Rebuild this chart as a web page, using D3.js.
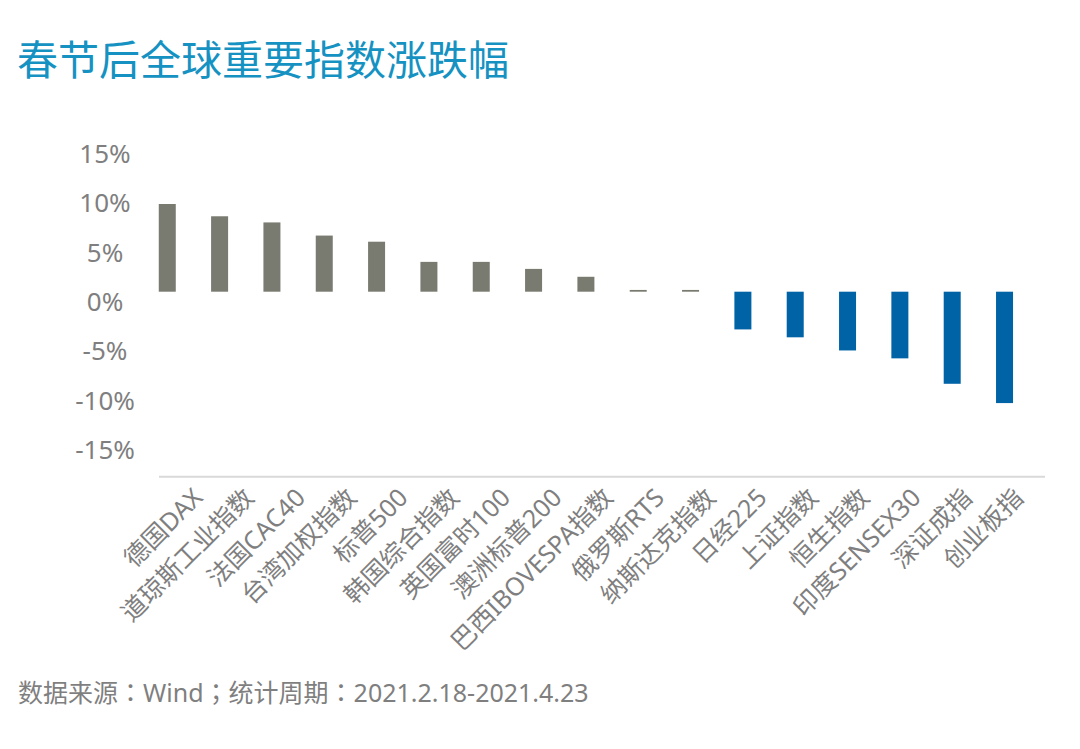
<!DOCTYPE html>
<html>
<head>
<meta charset="utf-8">
<script src="https://cdn.jsdelivr.net/npm/d3@7"></script>
<style>
body { margin: 0; background: #fff; }
svg { display: block; font-family: "Noto Sans", "Noto Sans CJK SC", sans-serif; }
</style>
</head>
<body>
<div id="chart"></div>
<script>
var names = ["德国DAX", "道琼斯工业指数", "法国CAC40", "台湾加权指数", "标普500", "韩国综合指数",
	"英国富时100", "澳洲标普200", "巴西IBOVESPA指数", "俄罗斯RTS", "纳斯达克指数", "日经225",
	"上证指数", "恒生指数", "印度SENSEX30", "深证成指", "创业板指"];
var values = [10.0, 8.6, 7.9, 6.4, 5.7, 3.4, 3.4, 2.6, 1.7, 0.2, 0.2, -4.3, -5.2, -6.7, -7.6, -10.5, -12.7];
var yTicks = [15, 10, 5, 0, -5, -10, -15];

var title = "春节后全球重要指数涨跌幅";
var sourceParts = ["数据来源", "：", "Wind", "；", "统计周期", "：", "2021.2.18-2021.4.23"];

var svgWidth = 1080, svgHeight = 749;

var svg = d3.select("#chart")
.append("svg")
.attr("width", svgWidth)
.attr("height", svgHeight);

svg.append("rect")
.attr("width", svgWidth)
.attr("height", svgHeight)
.attr("fill", "#fff");

svg.append("text")
.attr("x", 17)
.attr("y", 75)
.attr("fill", "#1592c2")
.style("font-size", "41px")
.text(title);

var xScale = d3.scaleBand()
.domain(names)
.range([132.6, 1039.2])
.paddingInner(0.675)
.paddingOuter(0.5);

// bars and tick labels don't share a scale in the original picture
var yScale = d3.scaleLinear()
.domain([0, 10])
.range([291.7, 204]);

var tickScale = d3.scaleLinear()
.domain([-15, 15])
.range([450.5, 154]);

var yAxis = d3.axisLeft(tickScale)
.tickValues(yTicks)
.tickSize(0)
.tickPadding(0)
.tickFormat(d => d + "%");

var yGroup = svg.append("g")
.attr("transform", "translate(105,0)")
.call(yAxis);
yGroup.select(".domain").remove();
yGroup.selectAll("text")
.attr("text-anchor", "middle")
.attr("fill", "#7f7f7f")
.style("font-size", "26px")
.style("font-family", "'Noto Sans', 'Noto Sans CJK SC', sans-serif");

svg.append("line")
.attr("x1", 159)
.attr("x2", 1045)
.attr("y1", 476.7)
.attr("y2", 476.7)
.attr("stroke", "#d9d9d9")
.attr("stroke-width", 2);

svg.append("g")
.selectAll("rect")
.data(values)
.enter()
.append("rect")
.attr("x", (d, i) => xScale(names[i]))
.attr("width", xScale.bandwidth())
.attr("y", d => yScale(Math.max(0, d)))
.attr("height", d => Math.abs(yScale(d) - yScale(0)))
.attr("fill", d => d >= 0 ? "#797b70" : "#0063a6");

var labelScale = d3.scalePoint()
.domain(names)
.range([198, 1018.7]);

svg.append("g")
.selectAll("text")
.data(names)
.enter()
.append("text")
.attr("transform", d => `translate(${labelScale(d)},493) rotate(-45)`)
.attr("text-anchor", "end")
.attr("dy", "0.35em")
.attr("fill", "#7f7f7f")
.style("font-size", "25px")
.text(d => d);

// full-width colons are centred in the source, JP font does that
svg.append("text")
.attr("x", 18)
.attr("y", 702)
.attr("fill", "#7f7f7f")
.style("font-size", "25px")
.selectAll("tspan")
.data(sourceParts)
.enter()
.append("tspan")
.style("font-family", d => (d == "：" || d == "；") ? "'Noto Sans CJK JP'" : null)
.text(d => d);
</script>
</body>
</html>
